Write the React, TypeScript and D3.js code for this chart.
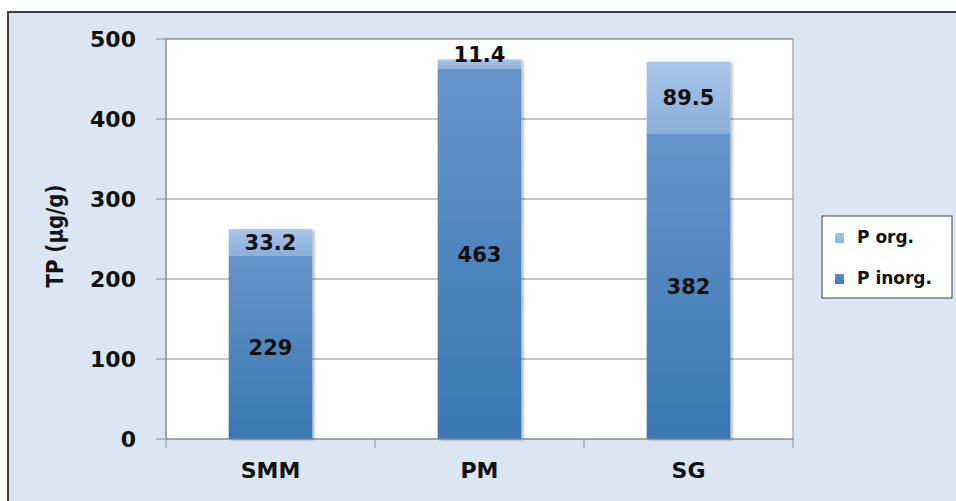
import React from "react";
import * as d3 from "d3";

const categories = ["SMM", "PM", "SG"];
const pInorg = [229, 463, 382];
const pOrg = [33.2, 11.4, 89.5];
const yTicks = [0, 100, 200, 300, 400, 500];
const seriesNames = ["P org.", "P inorg."];

const W = 956;
const H = 501;
const plot = { left: 166, right: 793, top: 39, bottom: 439 };
const FONT = "'DejaVu Sans', Verdana, sans-serif";

export default function App() {
  const x = d3
    .scaleBand<string>()
    .domain(categories)
    .range([plot.left, plot.right])
    .paddingInner(0.6)
    .paddingOuter(0.3);
  const xOuter = d3.scaleBand<string>().domain(categories).range([plot.left, plot.right]);
  const y = d3.scaleLinear().domain([0, 500]).range([plot.bottom, plot.top]);

  const boundaries = [plot.left, ...categories.map((c) => (xOuter(c) as number) + xOuter.bandwidth())];

  return (
    <svg
      width={W}
      height={H}
      style={{ position: "absolute", left: 0, top: 0, display: "block" }}
      fontFamily={FONT}
    >
      <defs>
        <linearGradient id="gInorg" x1="0" y1="0" x2="0" y2="1">
          <stop offset="0%" stopColor="#6594c8" />
          <stop offset="100%" stopColor="#3a77b3" />
        </linearGradient>
        <linearGradient id="gOrg" x1="0" y1="0" x2="0" y2="1">
          <stop offset="0%" stopColor="#a8c5e8" />
          <stop offset="100%" stopColor="#8aafd9" />
        </linearGradient>
        <linearGradient id="sInorg" x1="0" y1="0" x2="0" y2="1">
          <stop offset="0%" stopColor="#5f8fc5" />
          <stop offset="100%" stopColor="#3c79b4" />
        </linearGradient>
        <linearGradient id="sOrg" x1="0" y1="0" x2="0" y2="1">
          <stop offset="0%" stopColor="#a8c5e8" />
          <stop offset="100%" stopColor="#90b3dc" />
        </linearGradient>
        <filter id="shadow" x="-20%" y="-10%" width="140%" height="120%">
          <feDropShadow dx="2" dy="1" stdDeviation="1.5" floodColor="#000" floodOpacity="0.3" />
        </filter>
      </defs>

      {/* chart area background & border */}
      <rect x={8} y={12} width={W + 10} height={H + 10} fill="#dce6f2" stroke="#3f3f3f" strokeWidth={2} />

      {/* plot area */}
      <rect
        x={plot.left}
        y={plot.top}
        width={plot.right - plot.left}
        height={plot.bottom - plot.top}
        fill="#ffffff"
        stroke="#8c8c8c"
        strokeWidth={1}
      />

      {/* gridlines & y ticks */}
      {yTicks.map((t) => (
        <g key={t}>
          {t > 0 && (
            <line x1={plot.left} x2={plot.right} y1={y(t)} y2={y(t)} stroke="#8c8c8c" strokeWidth={1} />
          )}
          <line x1={plot.left - 10} x2={plot.left} y1={y(t)} y2={y(t)} stroke="#8c8c8c" strokeWidth={1} />
          <text
            x={136}
            y={y(t)}
            textAnchor="end"
            dominantBaseline="central"
            fontSize={22}
            fontWeight="bold"
            fill="#111"
          >
            {t}
          </text>
        </g>
      ))}

      {/* bars */}
      {categories.map((c, i) => {
        const bx = x(c) as number;
        const bw = x.bandwidth();
        const y0 = y(0);
        const y1 = y(pInorg[i]);
        const y2 = y(pInorg[i] + pOrg[i]);
        return (
          <g key={c} filter="url(#shadow)">
            <rect x={bx} y={y1} width={bw} height={y0 - y1} fill="url(#gInorg)" />
            <rect x={bx} y={y2} width={bw} height={y1 - y2} fill="url(#gOrg)" />
          </g>
        );
      })}

      {/* axes lines */}
      <line x1={plot.left} x2={plot.left} y1={plot.top} y2={plot.bottom} stroke="#8c8c8c" strokeWidth={1} />
      <line x1={plot.left} x2={plot.right} y1={plot.bottom} y2={plot.bottom} stroke="#8c8c8c" strokeWidth={1} />
      {boundaries.map((bx, i) => (
        <line key={i} x1={bx} x2={bx} y1={plot.bottom} y2={plot.bottom + 9} stroke="#8c8c8c" strokeWidth={1} />
      ))}

      {/* data labels */}
      {categories.map((c, i) => {
        const cx = (x(c) as number) + x.bandwidth() / 2;
        const yInMid = (y(0) + y(pInorg[i])) / 2;
        const top = y(pInorg[i] + pOrg[i]);
        const bottomOrg = y(pInorg[i]);
        const segH = bottomOrg - top;
        const yOrgMid = segH < 20 ? top - 4 : (top + bottomOrg) / 2;
        return (
          <g key={c} fontSize={21} fontWeight="bold" fill="#111" textAnchor="middle">
            <text x={cx} y={yInMid + 1} dominantBaseline="central">
              {pInorg[i]}
            </text>
            <text x={cx} y={yOrgMid} dominantBaseline="central">
              {pOrg[i]}
            </text>
          </g>
        );
      })}

      {/* x labels */}
      {categories.map((c) => (
        <text
          key={c}
          x={(x(c) as number) + x.bandwidth() / 2}
          y={478}
          textAnchor="middle"
          fontSize={22}
          fontWeight="bold"
          fill="#111"
        >
          {c}
        </text>
      ))}

      {/* y title */}
      <text
        transform={`translate(63, 236) rotate(-90)`}
        textAnchor="middle"
        fontSize={23}
        fontWeight="bold"
        fill="#111"
        textLength={103}
        lengthAdjust="spacingAndGlyphs"
      >
        TP (µg/g)
      </text>

      {/* legend */}
      <rect x={822} y={216} width={130} height={82} fill="#ffffff" stroke="#3f3f3f" strokeWidth={1} />
      {seriesNames.map((s, i) => {
        const ly = 243 + i * 41;
        return (
          <g key={s}>
            <rect x={835} y={ly - 10} width={9} height={10} fill={i === 0 ? "url(#sOrg)" : "url(#sInorg)"} />
            <text x={857} y={ly} fontSize={17} fontWeight="bold" fill="#111">
              {s}
            </text>
          </g>
        );
      })}
    </svg>
  );
}
